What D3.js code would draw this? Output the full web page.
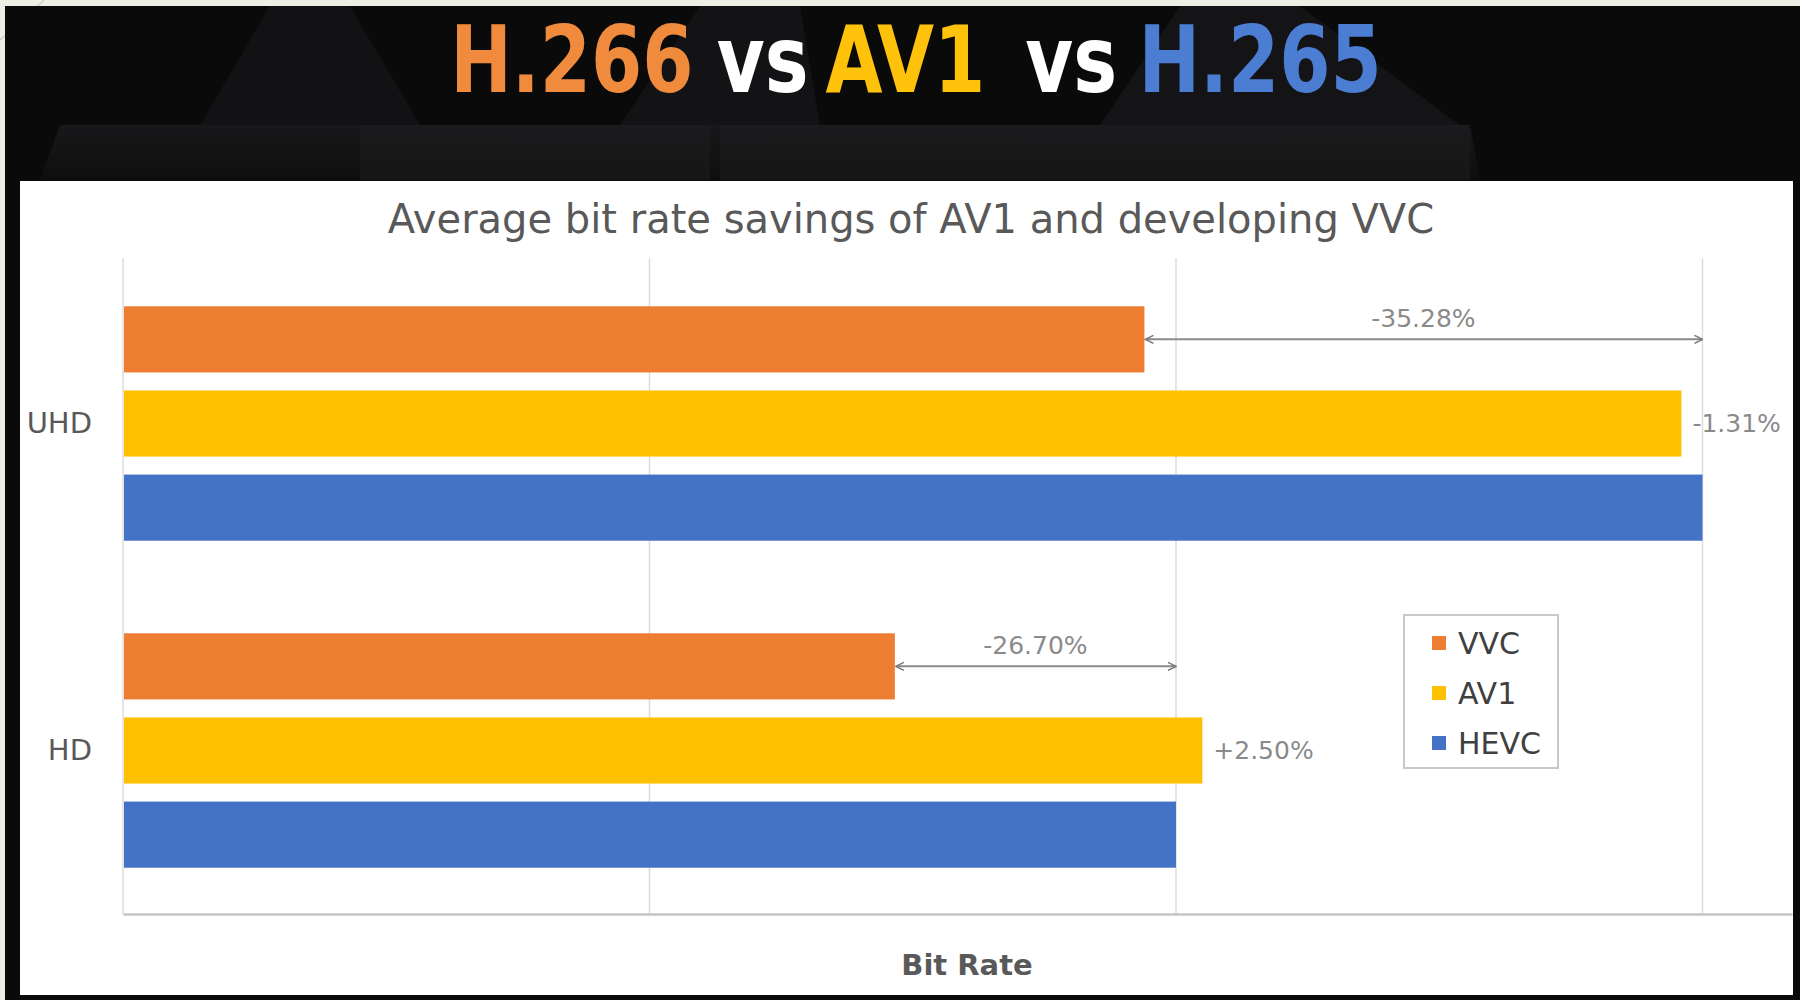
<!DOCTYPE html>
<html>
<head>
<meta charset="utf-8">
<script src="https://cdn.jsdelivr.net/npm/d3@7"></script>
<style>
  html, body { margin: 0; padding: 0; background: #efefe6; }
  svg { display: block; }
</style>
</head>
<body>
<svg id="chart" width="1800" height="1000"></svg>
<script>
// ---- Data ----
const categories = ["UHD", "HD"];
const seriesNames = ["VVC", "AV1", "HEVC"];
const vvcValues = [1.94, 1.466];
const av1Values = [2.96, 2.05];
const hevcValues = [3.0, 2.0];
const vvcSavingLabels = ["-35.28%", "-26.70%"];
const av1DiffLabels = ["-1.31%", "+2.50%"];
const gridTicks = [0, 1, 2, 3];
const seriesColors = ["#ED7D31", "#FFC000", "#4472C4"];
const headline = [
  { text: "H.266", color: "#F08A3C" },
  { text: "vs", color: "#FFFFFF" },
  { text: "AV1", color: "#FFC20A" },
  { text: "vs", color: "#FFFFFF" },
  { text: "H.265", color: "#4B7DD3" }
];
const chartTitle = "Average bit rate savings of AV1 and developing VVC";
const xAxisTitle = "Bit Rate";

const seriesValues = [vvcValues, av1Values, hevcValues];

const svg = d3.select("#chart");

// ---- Page background ----
svg.append("rect").attr("x", 0).attr("y", 0).attr("width", 1800).attr("height", 1000).attr("fill", "#eeeee4");
svg.append("line").attr("x1", 0).attr("y1", 40).attr("x2", 44).attr("y2", 0).attr("stroke", "#b9b9b0").attr("stroke-width", 1);
svg.append("rect").attr("x", 5).attr("y", 6).attr("width", 1795).attr("height", 994).attr("fill", "#0a0a0b");

// subtle banner shapes
const defs = svg.append("defs");
const g1 = defs.append("linearGradient").attr("id", "floor").attr("x1", 0).attr("y1", 0).attr("x2", 0).attr("y2", 1);
g1.append("stop").attr("offset", "0%").attr("stop-color", "#18181a").attr("stop-opacity", 1);
g1.append("stop").attr("offset", "100%").attr("stop-color", "#0e0e0f").attr("stop-opacity", 1);
const banner = svg.append("g");
const shapes = [
  [[270, 6], [350, 6], [420, 125], [200, 125]],
  [[700, 6], [800, 6], [820, 125], [620, 125]],
  [[1180, 6], [1300, 6], [1460, 125], [1100, 125]],
  [[60, 125], [1470, 125], [1480, 180], [40, 180]]
];
const shapeFills = ["#121214", "#131315", "#141416", "url(#floor)"];
shapes.forEach((pts, i) => {
  banner.append("polygon")
    .attr("points", pts.map(p => p.join(",")).join(" "))
    .attr("fill", shapeFills[i]);
});
[[360, 125, 350], [720, 125, 380], [1100, 125, 370]].forEach(([x, y, w]) => {
  banner.append("rect").attr("x", x).attr("y", y).attr("width", w).attr("height", 55).attr("fill", "#1e1e20").attr("opacity", 0.5);
});

// ---- Headline ----
const head = svg.append("text")
  .attr("transform", "translate(916,92) scale(0.89,1)")
  .attr("x", 0).attr("y", 0)
  .attr("text-anchor", "middle")
  .style("font-family", "'DejaVu Sans Condensed', 'DejaVu Sans', sans-serif")
  .style("font-weight", "bold")
  .style("font-size", "92px");
const headGaps = [0, 26, 19, 45, 24];
headline.forEach((h, i) => {
  head.append("tspan")
    .attr("dx", headGaps[i])
    .attr("fill", h.color)
    .text(h.text);
});

// ---- White panel ----
svg.append("rect").attr("x", 20).attr("y", 181).attr("width", 1773).attr("height", 814).attr("fill", "#ffffff");

// ---- Chart ----
const plotLeft = 123, plotRight = 1792, plotTop = 258, plotBottom = 914;
const x = d3.scaleLinear().domain([0, 3.17]).range([plotLeft, plotRight]);
const y0 = d3.scaleBand().domain(categories).range([plotTop + 2, plotBottom]).padding(0);
const y1 = d3.scaleBand().domain(seriesNames).range([0, y0.bandwidth()]).paddingInner(0.214).paddingOuter(0.55);

// Chart title
svg.append("text")
  .attr("x", 911).attr("y", 233)
  .attr("text-anchor", "middle")
  .attr("fill", "#595959")
  .style("font-family", "'DejaVu Sans', sans-serif")
  .style("font-size", "40px")
  .text(chartTitle);

// Gridlines
svg.append("g").selectAll("line").data(gridTicks).join("line")
  .attr("x1", d => x(d)).attr("x2", d => x(d))
  .attr("y1", plotTop).attr("y2", plotBottom)
  .attr("stroke", "#dcdcdc").attr("stroke-width", 1.5);

// Bottom axis line
const xAxis = d3.axisBottom(x).tickValues(gridTicks).tickSize(0).tickFormat("");
const axisG = svg.append("g").attr("transform", `translate(0,${plotBottom})`).call(xAxis);
axisG.select(".domain").attr("stroke", "#c4c4c4").attr("stroke-width", 2.5);

// Bars
const rows = [];
categories.forEach((c, ci) => {
  seriesNames.forEach((s, si) => {
    rows.push({ cat: c, series: s, value: seriesValues[si][ci], color: seriesColors[si] });
  });
});
svg.append("g").selectAll("rect").data(rows).join("rect")
  .attr("x", x(0) + 1)
  .attr("y", d => y0(d.cat) + y1(d.series))
  .attr("width", d => x(d.value) - x(0) - 1)
  .attr("height", y1.bandwidth())
  .attr("fill", d => d.color);

// Category labels
const yAxis = d3.axisLeft(y0).tickSize(0).tickPadding(31);
const yG = svg.append("g").attr("transform", `translate(${plotLeft},0)`).call(yAxis);
yG.select(".domain").remove();
yG.selectAll("text")
  .attr("fill", "#595959")
  .style("font-family", "'DejaVu Sans', sans-serif")
  .style("font-size", "29px");

// Arrow markers (tip sits exactly on the line end)
defs.append("marker")
  .attr("id", "arrow")
  .attr("viewBox", "0 0 10 10")
  .attr("refX", 9).attr("refY", 5)
  .attr("markerWidth", 5).attr("markerHeight", 5)
  .attr("markerUnits", "strokeWidth")
  .attr("orient", "auto-start-reverse")
  .append("path")
  .attr("d", "M1,1 L9,5 L1,9")
  .attr("fill", "none")
  .attr("stroke", "#7a7a7a")
  .attr("stroke-width", 1.6);

// Saving arrows + labels (VVC vs HEVC)
categories.forEach((c, ci) => {
  const yy = y0(c) + y1("VVC") + y1.bandwidth() / 2;
  const xa = x(vvcValues[ci]), xb = x(hevcValues[ci]);
  svg.append("line")
    .attr("x1", xa + 1).attr("x2", xb)
    .attr("y1", yy).attr("y2", yy)
    .attr("stroke", "#8a8a8a").attr("stroke-width", 2)
    .attr("marker-start", "url(#arrow)")
    .attr("marker-end", "url(#arrow)");
  svg.append("text")
    .attr("x", (xa + xb) / 2).attr("y", yy - 12)
    .attr("text-anchor", "middle")
    .attr("fill", "#8a8a8a")
    .style("font-family", "'DejaVu Sans', sans-serif")
    .style("font-size", "25px")
    .text(vvcSavingLabels[ci]);
});

// AV1 difference labels
categories.forEach((c, ci) => {
  const yy = y0(c) + y1("AV1") + y1.bandwidth() / 2;
  svg.append("text")
    .attr("x", x(av1Values[ci]) + 11).attr("y", yy)
    .attr("dy", "0.35em")
    .attr("fill", "#8a8a8a")
    .style("font-family", "'DejaVu Sans', sans-serif")
    .style("font-size", "25px")
    .text(av1DiffLabels[ci]);
});

// Legend
const legend = svg.append("g").attr("transform", "translate(1404,615)");
legend.append("rect").attr("width", 154).attr("height", 153)
  .attr("fill", "#ffffff").attr("stroke", "#c8c8c8").attr("stroke-width", 2);
seriesNames.forEach((s, i) => {
  const cy = 28 + i * 50;
  legend.append("rect").attr("x", 28).attr("y", cy - 7).attr("width", 14).attr("height", 14).attr("fill", seriesColors[i]);
  legend.append("text").attr("x", 54).attr("y", cy).attr("dy", "0.36em")
    .attr("fill", "#404040")
    .style("font-family", "'DejaVu Sans', sans-serif")
    .style("font-size", "30px")
    .text(s);
});

// X axis title
svg.append("text")
  .attr("x", 967).attr("y", 975)
  .attr("text-anchor", "middle")
  .attr("fill", "#595959")
  .style("font-family", "'DejaVu Sans', sans-serif")
  .style("font-weight", "bold")
  .style("font-size", "29px")
  .text(xAxisTitle);
</script>
</body>
</html>
